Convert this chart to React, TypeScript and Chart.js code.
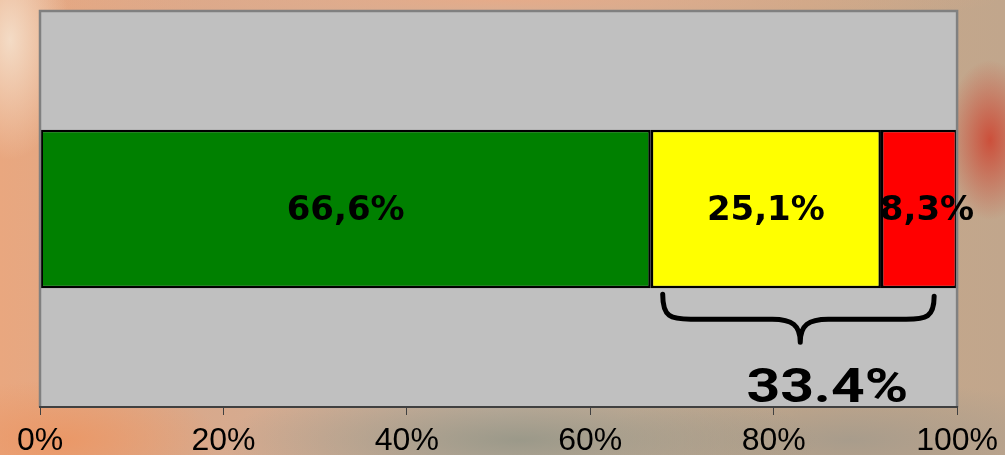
import React, { useEffect, useRef } from "react";
import { Chart, registerables } from "chart.js";

Chart.register(...registerables);

const categories = ["Riparto"];
const seriesNames = ["Verde", "Giallo", "Rosso"];
const seriesValues = [66.6, 25.1, 8.3];
const seriesColors = ["#008000", "#FFFF00", "#FF0000"];
const seriesLabels = ["66,6%", "25,1%", "8,3%"];
const tickValues = [0, 20, 40, 60, 80, 100];

const overlayPlugin = {
  id: "overlay",
  beforeDatasetsDraw(chart: any) {
    const { ctx, chartArea } = chart;
    ctx.save();
    ctx.fillStyle = "#C0C0C0";
    ctx.fillRect(chartArea.left, chartArea.top, chartArea.right - chartArea.left, chartArea.bottom - chartArea.top);
    ctx.restore();
  },
  afterDatasetsDraw(chart: any) {
    const { ctx, chartArea, scales } = chart;
    const xs = scales.x;
    ctx.save();
    // plot border
    ctx.strokeStyle = "#808080";
    ctx.lineWidth = 2.5;
    ctx.beginPath();
    ctx.moveTo(chartArea.left, chartArea.bottom);
    ctx.lineTo(chartArea.left, chartArea.top);
    ctx.lineTo(chartArea.right, chartArea.top);
    ctx.lineTo(chartArea.right, chartArea.bottom);
    ctx.stroke();
    ctx.strokeStyle = "#404040";
    ctx.lineWidth = 2;
    ctx.beginPath();
    ctx.moveTo(chartArea.left - 1, chartArea.bottom);
    ctx.lineTo(chartArea.right + 1, chartArea.bottom);
    ctx.stroke();

    // segment labels
    ctx.fillStyle = "#000";
    ctx.font = "bold 34px 'DejaVu Sans'";
    ctx.textAlign = "center";
    ctx.textBaseline = "middle";
    let barBottom = 0;
    const n = chart.data.datasets.length;
    chart.data.datasets.forEach((ds: any, i: number) => {
      const bar = chart.getDatasetMeta(i).data[0] as any;
      const p = bar.getProps(["x", "y", "base", "height"], true);
      let cx = (p.x + p.base) / 2;
      if (i === n - 1) cx += 8;
      ctx.fillText(seriesLabels[i], cx, p.y + 2);
      barBottom = p.y + p.height / 2;
    });

    // brace over yellow + red
    const restSum = seriesValues[1] + seriesValues[2];
    const xl = xs.getPixelForValue(67.9);
    const xr = xs.getPixelForValue(97.5);
    const xm = xs.getPixelForValue(82.9);
    const yTop = barBottom + 6;
    const yMid = yTop + 25;
    const yTip = yTop + 48;
    ctx.strokeStyle = "#000";
    ctx.lineWidth = 5;
    ctx.lineCap = "round";
    ctx.lineJoin = "round";
    ctx.beginPath();
    ctx.moveTo(xl, yTop);
    ctx.bezierCurveTo(xl, yMid - 2, xl + 8, yMid, xl + 28, yMid);
    ctx.lineTo(xm - 28, yMid);
    ctx.bezierCurveTo(xm - 8, yMid, xm, yMid + 6, xm, yTip);
    ctx.bezierCurveTo(xm, yMid + 6, xm + 8, yMid, xm + 28, yMid);
    ctx.lineTo(xr - 28, yMid);
    ctx.bezierCurveTo(xr - 8, yMid, xr, yMid - 2, xr, yTop + 2);
    ctx.stroke();

    ctx.font = "bold 49px Roboto";
    ctx.textBaseline = "alphabetic";
    ctx.translate(xm + 27, chartArea.bottom - 5);
    ctx.scale(1.2, 1);
    ctx.fillText(restSum.toFixed(1) + "%", 0, 0);
    ctx.restore();
  },
};

export default function App() {
  const ref = useRef<HTMLCanvasElement | null>(null);
  useEffect(() => {
    if (!ref.current) return;
    const chart = new Chart(ref.current, {
      type: "bar",
      data: {
        labels: categories,
        datasets: seriesNames.map((n, i) => ({
          label: n,
          data: [seriesValues[i]],
          backgroundColor: seriesColors[i],
          borderColor: "#000",
          borderWidth: 2.5,
          borderSkipped: false,
          barPercentage: 0.4,
          categoryPercentage: 1,
        })),
      },
      options: {
        indexAxis: "y",
        animation: false,
        responsive: false,
        maintainAspectRatio: false,
        layout: { padding: { left: 40, right: 47, top: 11, bottom: 0 } },
        plugins: { legend: { display: false }, tooltip: { enabled: false } },
        scales: {
          x: {
            stacked: true,
            min: 0,
            max: 100,
            afterBuildTicks(scale: any) {
              scale.ticks = tickValues.map((v) => ({ value: v }));
            },
            afterFit(scale: any) {
              scale.height = 48;
            },
            ticks: {
              callback: (v: any) => v + "%",
              color: "#000",
              font: { family: "'Liberation Sans'", size: 32 },
              padding: 7,
              maxRotation: 0,
            },
            grid: {
              color: "#1a1a1a",
              lineWidth: 1,
              tickLength: 8,
              tickColor: "#404040",
            },
            border: { display: false },
          },
          y: { stacked: true, display: false },
        },
      },
      plugins: [overlayPlugin],
    });
    return () => chart.destroy();
  }, []);

  const bg = [
    "radial-gradient(ellipse 45px 80px at 990px 140px, rgba(205,70,50,0.9), rgba(205,70,50,0) 100%)",
    "radial-gradient(ellipse 300px 60px at 520px 440px, rgba(150,150,135,0.9), rgba(150,150,135,0) 100%)",
    "radial-gradient(ellipse 250px 60px at 850px 440px, rgba(165,155,140,0.9), rgba(165,155,140,0) 100%)",
    "radial-gradient(ellipse 60px 120px at 10px 40px, rgba(245,225,205,0.9), rgba(245,225,205,0) 100%)",
    "radial-gradient(ellipse 160px 60px at 60px 440px, rgba(235,150,100,0.9), rgba(235,150,100,0) 100%)",
    "radial-gradient(ellipse 500px 30px at 500px 0px, rgba(232,170,135,0.9), rgba(232,170,135,0) 100%)",
    "linear-gradient(90deg, #e9a77f 0%, #d8a98c 20%, #c9b3a0 50%, #c7a88a 80%, #c1a68c 100%)",
  ].join(",");

  return (
    <div style={{ position: "fixed", left: 0, top: 0, width: 1005, height: 455, background: bg }}>
      <canvas ref={ref} width={1005} height={455} style={{ display: "block" }} />
    </div>
  );
}
